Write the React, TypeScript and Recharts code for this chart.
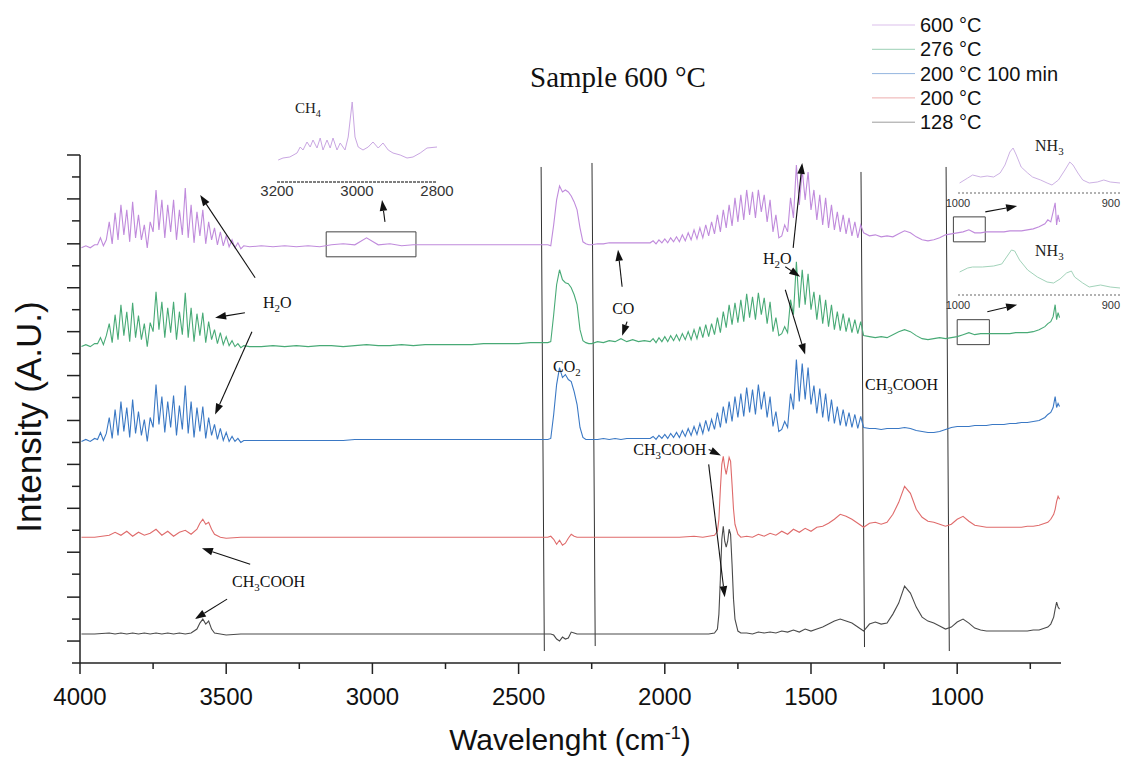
import React from 'react';
import {
  LineChart,
  Line,
  XAxis,
  YAxis,
  ReferenceLine,
  ReferenceArea,
  ReferenceDot
} from 'recharts';

const SANS = '"Liberation Sans", Arial, sans-serif';
const SERIF = '"Liberation Serif", "Times New Roman", serif';

// dense wavenumber grid (cm-1) used by the three upper spectra
const wnDense = [
  3995, 3980, 3965, 3950,
  3940, 3930, 3920, 3910, 3900, 3890, 3880, 3870, 3860, 3850,
  3840, 3830, 3820, 3810, 3800, 3790, 3780, 3770, 3760, 3750,
  3740, 3730, 3720, 3710, 3700, 3690, 3680, 3670, 3660, 3650,
  3640, 3630, 3620, 3610, 3600, 3590, 3580, 3570, 3560, 3550,
  3540, 3530, 3520, 3510, 3500, 3490, 3480, 3470, 3460, 3450,
  3440,
  3420, 3380, 3340, 3300, 3260, 3220, 3180, 3140, 3100, 3060, 3020, 2980, 2940,
  2900, 2860, 2820, 2780, 2740, 2700, 2660, 2620, 2580, 2540, 2500, 2460, 2420,
  2410, 2400, 2390, 2380, 2370, 2360, 2350, 2340, 2330, 2320, 2310, 2300, 2290, 2280, 2270, 2260,
  2250, 2230, 2210, 2190, 2170, 2150, 2130, 2110, 2090, 2070,
  2050, 2040, 2030, 2020, 2010, 2000, 1990, 1980, 1970, 1960,
  1950, 1940, 1930, 1920, 1910, 1900, 1890, 1880, 1870, 1860,
  1850, 1840, 1830, 1820, 1810, 1800, 1790, 1780, 1770, 1760,
  1750, 1740, 1730, 1720, 1710, 1700, 1690, 1680, 1670, 1660,
  1650, 1640, 1630, 1620, 1610, 1600, 1590, 1580, 1570, 1560,
  1550, 1540, 1530, 1520, 1510, 1500, 1490, 1480, 1470, 1460,
  1450, 1440, 1430, 1420, 1410, 1400, 1390, 1380, 1370, 1360,
  1350, 1340, 1330,
  1320, 1300, 1280, 1260, 1240, 1220, 1200, 1180, 1160, 1140,
  1120, 1100, 1080, 1060, 1040, 1020, 1000, 980, 960, 940,
  920, 900, 880, 860, 840, 820, 800, 780, 760, 740,
  720, 700, 690, 680, 672, 665, 660, 655, 650
];

const s600 = [
  4.12, 4.14, 4.12, 4.15,
  4.15, 4.22, 4.14, 4.20, 4.38, 4.16, 4.47, 4.20, 4.55, 4.25,
  4.50, 4.18, 4.58, 4.22, 4.45, 4.20, 4.35, 4.12, 4.38, 4.28,
  4.70, 4.30, 4.60, 4.22, 4.55, 4.28, 4.60, 4.20, 4.50, 4.25,
  4.72, 4.22, 4.55, 4.17, 4.48, 4.24, 4.50, 4.16, 4.38, 4.20,
  4.32, 4.15, 4.28, 4.14, 4.24, 4.13, 4.20, 4.12, 4.17, 4.11,
  4.14,
  4.13, 4.14, 4.13, 4.14, 4.13, 4.14, 4.13, 4.15, 4.16, 4.15, 4.22, 4.15, 4.16,
  4.14, 4.15, 4.15, 4.15, 4.15, 4.15, 4.15, 4.15, 4.15, 4.15, 4.15, 4.15, 4.15,
  4.15, 4.15, 4.14, 4.35, 4.60, 4.74, 4.68, 4.70, 4.68, 4.64, 4.58, 4.50, 4.32, 4.18, 4.16, 4.15,
  4.15, 4.16, 4.16, 4.17, 4.17, 4.17, 4.17, 4.17, 4.17, 4.17,
  4.17, 4.19, 4.16, 4.20, 4.17, 4.21, 4.17, 4.22, 4.18, 4.23,
  4.18, 4.25, 4.19, 4.27, 4.20, 4.30, 4.21, 4.32, 4.22, 4.35,
  4.24, 4.38, 4.26, 4.45, 4.28, 4.50, 4.32, 4.55, 4.34, 4.62,
  4.38, 4.65, 4.40, 4.70, 4.45, 4.68, 4.42, 4.70, 4.48, 4.65,
  4.38, 4.60, 4.28, 4.45, 4.22, 4.24, 4.35, 4.28, 4.62, 4.42,
  4.95, 4.55, 4.90, 4.60, 4.88, 4.50, 4.70, 4.40, 4.65, 4.35,
  4.62, 4.32, 4.55, 4.30, 4.48, 4.28, 4.45, 4.26, 4.42, 4.24,
  4.38, 4.22, 4.35,
  4.27, 4.24, 4.25, 4.23, 4.24, 4.23, 4.26, 4.29, 4.27, 4.23,
  4.20, 4.19, 4.20, 4.22, 4.25, 4.26, 4.27, 4.28, 4.30, 4.27,
  4.27, 4.28, 4.28, 4.28, 4.28, 4.29, 4.29, 4.29, 4.30, 4.31,
  4.33, 4.36, 4.40, 4.38, 4.48, 4.57, 4.35, 4.45, 4.38
];

const s276 = [
  3.13, 3.15, 3.13, 3.16,
  3.16, 3.22, 3.15, 3.24, 3.36, 3.17, 3.45, 3.20, 3.55, 3.24,
  3.48, 3.18, 3.57, 3.22, 3.44, 3.20, 3.36, 3.13, 3.37, 3.28,
  3.68, 3.30, 3.58, 3.22, 3.52, 3.27, 3.58, 3.20, 3.48, 3.25,
  3.67, 3.22, 3.52, 3.18, 3.46, 3.24, 3.47, 3.17, 3.38, 3.20,
  3.30, 3.16, 3.27, 3.15, 3.23, 3.14, 3.19, 3.13, 3.16, 3.12,
  3.14,
  3.13, 3.13, 3.14, 3.13, 3.14, 3.13, 3.14, 3.14, 3.13, 3.14, 3.15, 3.14, 3.14,
  3.15, 3.14, 3.15, 3.15, 3.15, 3.15, 3.15, 3.16, 3.16, 3.16, 3.16, 3.17, 3.17,
  3.17, 3.17, 3.18, 3.45, 3.75, 3.90, 3.80, 3.77, 3.76, 3.72, 3.65, 3.55, 3.30, 3.19, 3.17, 3.16,
  3.16, 3.18, 3.17, 3.19, 3.18, 3.21, 3.18, 3.20, 3.18, 3.19,
  3.18, 3.21, 3.17, 3.22, 3.18, 3.23, 3.18, 3.24, 3.19, 3.25,
  3.19, 3.26, 3.20, 3.28, 3.20, 3.30, 3.21, 3.33, 3.22, 3.35,
  3.23, 3.36, 3.25, 3.42, 3.27, 3.48, 3.32, 3.55, 3.35, 3.57,
  3.37, 3.60, 3.38, 3.66, 3.42, 3.63, 3.40, 3.67, 3.45, 3.62,
  3.36, 3.58, 3.28, 3.42, 3.24, 3.26, 3.33, 3.27, 3.60, 3.45,
  3.98, 3.52, 3.90, 3.55, 3.86, 3.50, 3.68, 3.40, 3.65, 3.36,
  3.60, 3.33, 3.55, 3.30, 3.48, 3.29, 3.46, 3.28, 3.42, 3.27,
  3.40, 3.26, 3.38,
  3.24, 3.23, 3.22, 3.23, 3.22, 3.25, 3.28, 3.30, 3.28, 3.24,
  3.21, 3.20, 3.21, 3.22, 3.21, 3.22, 3.23, 3.25, 3.27, 3.25,
  3.26, 3.26, 3.26, 3.26, 3.26, 3.26, 3.27, 3.27, 3.27, 3.28,
  3.30, 3.33, 3.36, 3.38, 3.43, 3.55, 3.40, 3.47, 3.42
];

const s200long = [
  2.18, 2.20, 2.18, 2.21,
  2.20, 2.27, 2.19, 2.26, 2.42, 2.21, 2.50, 2.24, 2.58, 2.28,
  2.52, 2.22, 2.60, 2.26, 2.48, 2.24, 2.40, 2.18, 2.42, 2.32,
  2.75, 2.35, 2.63, 2.27, 2.58, 2.32, 2.64, 2.24, 2.54, 2.30,
  2.74, 2.26, 2.58, 2.22, 2.52, 2.28, 2.53, 2.21, 2.42, 2.24,
  2.35, 2.20, 2.31, 2.19, 2.27, 2.18, 2.23, 2.18, 2.21, 2.17,
  2.19,
  2.19, 2.19, 2.19, 2.19, 2.19, 2.19, 2.19, 2.19, 2.19, 2.20, 2.20, 2.20, 2.20,
  2.20, 2.20, 2.20, 2.20, 2.20, 2.20, 2.20, 2.20, 2.20, 2.20, 2.20, 2.20, 2.20,
  2.20, 2.20, 2.21, 2.45, 2.75, 2.92, 2.82, 2.85, 2.80, 2.78, 2.68, 2.55, 2.32, 2.22, 2.20, 2.20,
  2.20, 2.20, 2.21, 2.20, 2.21, 2.20, 2.21, 2.21, 2.21, 2.21,
  2.21, 2.23, 2.20, 2.24, 2.21, 2.25, 2.21, 2.26, 2.22, 2.27,
  2.22, 2.29, 2.23, 2.31, 2.24, 2.33, 2.25, 2.36, 2.26, 2.39,
  2.28, 2.40, 2.30, 2.47, 2.32, 2.53, 2.36, 2.58, 2.38, 2.63,
  2.42, 2.66, 2.43, 2.72, 2.47, 2.70, 2.45, 2.75, 2.50, 2.68,
  2.42, 2.63, 2.33, 2.48, 2.28, 2.30, 2.38, 2.32, 2.66, 2.50,
  3.00, 2.58, 2.96, 2.60, 2.92, 2.55, 2.74, 2.46, 2.71, 2.42,
  2.66, 2.38, 2.60, 2.36, 2.53, 2.34, 2.50, 2.33, 2.47, 2.32,
  2.45, 2.31, 2.43,
  2.32, 2.31, 2.31, 2.30, 2.31, 2.31, 2.31, 2.32, 2.31, 2.29,
  2.28, 2.27, 2.27, 2.28, 2.30, 2.32, 2.33, 2.33, 2.33, 2.34,
  2.34, 2.34, 2.35, 2.35, 2.35, 2.36, 2.36, 2.37, 2.37, 2.38,
  2.39, 2.42, 2.45, 2.47, 2.52, 2.63, 2.52, 2.56, 2.53
];

// sparser grid for the two lower spectra
const wnSparse = [
  3995, 3950, 3900, 3880, 3860, 3840, 3820, 3800, 3780, 3760,
  3740, 3720, 3700, 3680, 3660, 3640, 3620, 3600, 3590, 3580,
  3570, 3560, 3550, 3540, 3520, 3500,
  3450, 3400, 3300, 3200, 3100, 3000, 2900, 2800, 2700, 2600, 2500, 2450, 2420,
  2400, 2390, 2380, 2370, 2360, 2350, 2340, 2330, 2320, 2310,
  2300, 2280, 2250, 2200, 2100, 2000, 1950, 1900, 1870, 1850,
  1830, 1820, 1815, 1810, 1805, 1800, 1795, 1790, 1785, 1780,
  1775, 1770, 1765, 1760, 1750, 1740,
  1720, 1700, 1680, 1660, 1640, 1620, 1600, 1580, 1560, 1540,
  1520, 1500, 1480, 1460, 1440, 1420, 1400, 1380, 1360, 1340,
  1320, 1300, 1280, 1260, 1240, 1220, 1200, 1180, 1160, 1140,
  1120, 1100, 1080, 1060, 1040, 1020, 1000, 980, 960, 940,
  920, 900, 880, 860, 840, 820, 800, 780, 760, 740,
  720, 700, 690, 680, 670, 665, 660, 655, 650
];

const s200 = [
  1.22, 1.22, 1.24, 1.27, 1.24, 1.28, 1.23, 1.27, 1.24, 1.26,
  1.30, 1.24, 1.28, 1.23, 1.27, 1.29, 1.25, 1.30, 1.36, 1.40,
  1.35, 1.37, 1.30, 1.25, 1.22, 1.21,
  1.22, 1.22, 1.22, 1.22, 1.22, 1.22, 1.22, 1.22, 1.22, 1.22, 1.22, 1.22, 1.22,
  1.22, 1.23, 1.20, 1.15, 1.19, 1.14, 1.16, 1.21, 1.25, 1.23,
  1.22, 1.22, 1.22, 1.22, 1.22, 1.22, 1.22, 1.23, 1.22, 1.23,
  1.24, 1.28, 1.40, 1.70, 1.95, 2.03, 1.92, 1.85, 1.93, 2.02,
  1.98, 1.75, 1.50, 1.35, 1.25, 1.22,
  1.23, 1.22, 1.25, 1.23, 1.26, 1.24, 1.28, 1.25, 1.30, 1.27,
  1.31, 1.28, 1.32, 1.33, 1.36, 1.40, 1.45, 1.43, 1.40, 1.36,
  1.32, 1.36, 1.37, 1.35, 1.37, 1.45, 1.57, 1.73, 1.66, 1.50,
  1.42, 1.38, 1.37, 1.35, 1.33, 1.35, 1.40, 1.43, 1.38, 1.34,
  1.33, 1.32, 1.32, 1.32, 1.32, 1.32, 1.32, 1.32, 1.33, 1.33,
  1.34, 1.36, 1.37, 1.40, 1.45, 1.50, 1.58, 1.63, 1.60
];

const s128 = [
  0.25, 0.25, 0.26, 0.25, 0.26, 0.25, 0.26, 0.25, 0.26, 0.25,
  0.26, 0.25, 0.26, 0.25, 0.26, 0.25, 0.26, 0.30, 0.36, 0.40,
  0.35, 0.38, 0.30, 0.26, 0.25, 0.24,
  0.25, 0.25, 0.25, 0.25, 0.25, 0.25, 0.25, 0.25, 0.25, 0.25, 0.25, 0.25, 0.25,
  0.25, 0.25, 0.24, 0.20, 0.18, 0.22, 0.20, 0.21, 0.27, 0.26,
  0.25, 0.25, 0.25, 0.25, 0.25, 0.25, 0.25, 0.25, 0.25, 0.25,
  0.26, 0.30, 0.45, 0.80, 1.20, 1.33, 1.18, 1.12, 1.18, 1.30,
  1.25, 0.95, 0.60, 0.40, 0.28, 0.26,
  0.26, 0.25, 0.27, 0.26, 0.27, 0.26, 0.28, 0.27, 0.29, 0.27,
  0.30, 0.28, 0.30, 0.32, 0.35, 0.38, 0.40, 0.38, 0.36, 0.32,
  0.28, 0.35, 0.37, 0.35, 0.36, 0.45, 0.56, 0.73, 0.66, 0.52,
  0.42, 0.38, 0.36, 0.33, 0.30, 0.32, 0.37, 0.40, 0.36, 0.31,
  0.29, 0.28, 0.28, 0.28, 0.28, 0.28, 0.28, 0.28, 0.28, 0.29,
  0.29, 0.31, 0.32, 0.35, 0.42, 0.50, 0.57, 0.52, 0.50
];

// zoomed insets
const ch4Wn = [3197, 3185, 3168, 3150, 3142, 3135, 3125, 3117, 3110, 3100, 3092, 3085, 3075, 3067, 3060, 3050, 3042, 3030, 3022, 3012, 3005, 2997, 2985, 2972, 2960, 2947, 2935, 2922, 2910, 2892, 2875, 2860, 2842, 2825, 2800];
const ch4Val = [2.2, 2.4, 2.5, 2.9, 3.5, 3.2, 4.0, 3.5, 4.2, 3.4, 4.4, 3.2, 4.2, 3.4, 4.4, 3.2, 3.9, 3.2, 4.5, 8.0, 4.5, 3.5, 3.2, 3.5, 4.0, 3.4, 3.9, 3.2, 2.9, 2.7, 2.4, 2.5, 2.9, 3.4, 3.5];
const nh3TopWn = [999, 994, 991, 986, 982, 978, 974, 971, 968, 966, 964, 961, 957, 954, 949, 945, 942, 938, 934, 931, 929, 926, 923, 919, 914, 910, 906, 900];
const nh3TopVal = [1.0, 1.5, 1.8, 1.6, 1.7, 1.6, 2.0, 2.8, 4.1, 4.5, 3.8, 2.6, 2.0, 1.6, 1.3, 1.0, 0.8, 1.3, 2.3, 3.1, 2.8, 2.0, 1.3, 1.0, 1.1, 1.3, 1.1, 1.0];
const nh3LowWn = [999, 994, 991, 985, 978, 973, 970, 967, 965, 962, 957, 951, 945, 941, 937, 933, 930, 928, 923, 919, 912, 906, 900];
const nh3LowVal = [2.3, 2.7, 2.8, 2.8, 2.9, 3.1, 3.8, 4.5, 4.4, 3.5, 2.5, 1.8, 1.3, 1.2, 1.6, 2.2, 2.4, 1.8, 1.2, 0.8, 1.0, 0.8, 0.7];

const xTicks = [4000, 3750, 3500, 3250, 3000, 2750, 2500, 2250, 2000, 1750, 1500, 1250, 1000, 750];
const yTicks = [-0.04, 0.18, 0.40, 0.62, 0.85, 1.07, 1.29, 1.51, 1.73, 1.95, 2.17, 2.39, 2.62, 2.84, 3.06, 3.28, 3.50, 3.72, 3.94, 4.16, 4.39, 4.61, 4.83, 5.05];

const series = [
  { key: 's600', name: '600 °C', color: '#c08bdc', dense: true },
  { key: 's276', name: '276 °C', color: '#48aa76', dense: true },
  { key: 's200long', name: '200 °C 100 min', color: '#3a78c4', dense: true },
  { key: 's200', name: '200 °C', color: '#df6b6b', dense: false },
  { key: 's128', name: '128 °C', color: '#4a4a4a', dense: false }
];

const denseData = wnDense.map((wn, i) => ({ wn, s600: s600[i], s276: s276[i], s200long: s200long[i] }));
const sparseData = wnSparse.map((wn, i) => ({ wn, s200: s200[i], s128: s128[i] }));

// hand drawn marker lines, [wn top, v top, wn bottom, v bottom]
const markerLines = [
  [2423, 4.93, 2412, 0.08],
  [2249, 4.97, 2238, 0.13],
  [1329, 4.88, 1317, 0.12],
  [1038, 4.93, 1027, 0.08]
];

// annotation arrows, [wn from, v from, wn to, v to]
const arrows = [
  [3401, 3.82, 3589, 4.65],
  [3436, 3.47, 3538, 3.42],
  [3412, 3.28, 3538, 2.45],
  [2957, 4.38, 2967, 4.60],
  [2146, 3.73, 2160, 4.10],
  [2129, 3.38, 2146, 3.24],
  [1561, 4.12, 1530, 4.97],
  [1588, 3.93, 1537, 3.83],
  [1588, 3.70, 1520, 3.05],
  [904, 4.48, 795, 4.54],
  [897, 3.48, 795, 3.55],
  [1850, 2.10, 1808, 2.04],
  [1850, 1.95, 1795, 0.62],
  [3418, 0.95, 3583, 1.11],
  [3497, 0.60, 3607, 0.40]
];

const labels = [
  { f: 'H2O', wn: 3374, v: 3.52 },
  { f: 'CO2', wn: 2382, v: 2.88 },
  { f: 'CO', wn: 2180, v: 3.46 },
  { f: 'H2O', wn: 1664, v: 3.96 },
  { f: 'CH3COOH', wn: 1315, v: 2.70 },
  { f: 'CH3COOH', wn: 2108, v: 2.04 },
  { f: 'CH3COOH', wn: 3480, v: 0.72 }
];

// boxes around the zoomed regions
const boxes = [
  { x1: 2851, x2: 3158, y1: 4.03, y2: 4.28 },
  { x1: 904, x2: 1013, y1: 4.18, y2: 4.43 },
  { x1: 890, x2: 1000, y1: 3.15, y2: 3.40 }
];

const chemParts = (f: string, size: number) => {
  const out: React.ReactNode[] = [];
  let sub = false;
  f.split('').forEach((ch, i) => {
    const digit = /[0-9]/.test(ch);
    if (digit && !sub) {
      out.push(<tspan key={i} fontSize={size * 0.68} dy={size * 0.25}>{ch}</tspan>);
      sub = true;
    } else if (!digit && sub) {
      out.push(<tspan key={i} dy={-size * 0.25}>{ch}</tspan>);
      sub = false;
    } else {
      out.push(<tspan key={i}>{ch}</tspan>);
    }
  });
  return out;
};

const ArrowShape = (props: any) => {
  const { x1, y1, x2, y2 } = props;
  const ang = Math.atan2(y2 - y1, x2 - x1);
  const len = 11;
  const hw = 3.8;
  const bx = x2 - len * Math.cos(ang);
  const by = y2 - len * Math.sin(ang);
  const px = -Math.sin(ang) * hw;
  const py = Math.cos(ang) * hw;
  return (
    <g>
      <line x1={x1} y1={y1} x2={bx} y2={by} stroke="#111" strokeWidth={1.1} />
      <polygon points={`${x2},${y2} ${bx + px},${by + py} ${bx - px},${by - py}`} fill="#111" />
    </g>
  );
};

const XTick = ({ x, y, payload }: any) => {
  const major = payload.value % 500 === 0;
  return (
    <g>
      <line x1={x} y1={y} x2={x} y2={y + (major ? 11 : 6)} stroke="#222" strokeWidth={1.5} />
      {major && (
        <text x={x} y={y + 42} textAnchor="middle" fontFamily={SANS} fontSize={24} fill="#111">
          {payload.value}
        </text>
      )}
    </g>
  );
};

const YTick = ({ x, y, index }: any) => {
  const major = index % 2 === 1;
  return <line x1={x - (major ? 13 : 8)} y1={y} x2={x} y2={y} stroke="#222" strokeWidth={1.5} />;
};

const makeInsetTick = (lastEnd: boolean, count: number) => ({ x, y, payload, index }: any) => (
  <text
    x={x}
    y={y + 14}
    textAnchor={lastEnd && index === count - 1 ? 'end' : 'middle'}
    fontFamily={SANS}
    fontSize={lastEnd ? 11 : 15}
    fill="#333"
  >
    {payload.value}
  </text>
);

type InsetProps = {
  left: number; top: number; w: number; h: number;
  wn: number[]; vals: number[]; color: string;
  domainX: [number, number]; domainY: [number, number]; ticks: number[];
  axisColor: string; dash: string; lastEnd: boolean;
};

const Inset = ({ left, top, w, h, wn, vals, color, domainX, domainY, ticks, axisColor, dash, lastEnd }: InsetProps) => {
  const data = wn.map((x, i) => ({ wn: x, v: vals[i] }));
  return (
    <div style={{ position: 'absolute', left: left - 20, top: top - 3 }}>
      <LineChart width={w + 40} height={h + 25} data={data} margin={{ top: 3, right: 20, bottom: 0, left: 20 }}>
        <XAxis
          type="number"
          dataKey="wn"
          domain={domainX}
          reversed
          ticks={ticks}
          interval={0}
          tickLine={false}
          tickSize={0}
          tickMargin={0}
          height={22}
          axisLine={{ stroke: axisColor, strokeWidth: 1.5, strokeDasharray: dash }}
          tick={makeInsetTick(lastEnd, ticks.length)}
        />
        <YAxis hide domain={domainY} allowDataOverflow />
        <Line type="linear" dataKey="v" stroke={color} strokeWidth={1} dot={false} isAnimationActive={false} />
      </LineChart>
    </div>
  );
};

export default function App() {
  return (
    <div style={{ position: 'absolute', left: 0, top: 0, width: 1131, height: 760, overflow: 'hidden', background: '#fff' }}>
      <LineChart width={1131} height={760} margin={{ top: 155, right: 70, bottom: 0, left: 0 }}>
        <XAxis
          type="number"
          dataKey="wn"
          domain={[645, 4000]}
          reversed
          allowDataOverflow
          ticks={xTicks}
          interval={0}
          height={97}
          tickLine={false}
          tickSize={0}
          tickMargin={0}
          axisLine={{ stroke: '#222', strokeWidth: 1.5 }}
          tick={<XTick />}
        />
        <YAxis
          type="number"
          domain={[-0.04, 5.05]}
          allowDataOverflow
          ticks={yTicks}
          interval={0}
          width={80}
          tickLine={false}
          tickSize={0}
          tickMargin={0}
          axisLine={{ stroke: '#222', strokeWidth: 1.5 }}
          tick={<YTick />}
        />
        {markerLines.map((m, i) => (
          <ReferenceLine
            key={`m${i}`}
            segment={[{ x: m[0], y: m[1] }, { x: m[2], y: m[3] }]}
            stroke="#333"
            strokeWidth={1}
          />
        ))}
        {series.map(s => (
          <Line
            key={s.key}
            data={s.dense ? denseData : sparseData}
            dataKey={s.key}
            name={s.name}
            type="linear"
            stroke={s.color}
            strokeWidth={1.1}
            dot={false}
            isAnimationActive={false}
          />
        ))}
        {boxes.map((b, i) => (
          <ReferenceArea key={`b${i}`} x1={b.x1} x2={b.x2} y1={b.y1} y2={b.y2} fill="none" stroke="#444" strokeWidth={1} />
        ))}
        {arrows.map((a, i) => (
          <ReferenceLine key={`a${i}`} segment={[{ x: a[0], y: a[1] }, { x: a[2], y: a[3] }]} shape={<ArrowShape />} />
        ))}
        {labels.map((l, i) => (
          <ReferenceDot
            key={`l${i}`}
            x={l.wn}
            y={l.v}
            r={0}
            shape={(p: any) => (
              <text x={p.cx} y={p.cy} fontFamily={SERIF} fontSize={16} fill="#111">
                {chemParts(l.f, 16)}
              </text>
            )}
          />
        ))}
      </LineChart>

      <Inset left={277} top={95} w={160} h={87} wn={ch4Wn} vals={ch4Val} color="#c9a6e2"
        domainX={[2800, 3200]} domainY={[0, 8.7]} ticks={[3200, 3000, 2800]} axisColor="#555" dash="3 1" lastEnd={false} />
      <Inset left={958} top={140} w={162} h={53} wn={nh3TopWn} vals={nh3TopVal} color="#cdb2e4"
        domainX={[900, 1000]} domainY={[0, 5.3]} ticks={[1000, 900]} axisColor="#999" dash="2 2" lastEnd />
      <Inset left={958} top={240} w={162} h={55} wn={nh3LowWn} vals={nh3LowVal} color="#a2d3ba"
        domainX={[900, 1000]} domainY={[0, 5.5]} ticks={[1000, 900]} axisColor="#999" dash="2 2" lastEnd />

      <svg width={1131} height={760} style={{ position: 'absolute', left: 0, top: 0, pointerEvents: 'none' }}>
        <text x={618} y={87} textAnchor="middle" fontFamily={SERIF} fontSize={29} fill="#111">Sample 600 °C</text>
        <text x={295} y={113} fontFamily={SERIF} fontSize={15} fill="#222">{chemParts('CH4', 15)}</text>
        <text x={1035} y={151} fontFamily={SERIF} fontSize={16} fill="#222">{chemParts('NH3', 16)}</text>
        <text x={1035} y={256} fontFamily={SERIF} fontSize={16} fill="#222">{chemParts('NH3', 16)}</text>
        {series.map((s, i) => (
          <g key={s.key}>
            <line x1={872} x2={915} y1={25 + i * 24.3} y2={25 + i * 24.3} stroke={s.color} strokeOpacity={0.55} strokeWidth={1} />
            <text x={920} y={32 + i * 24.3} fontFamily={SANS} fontSize={20} fill="#111">{s.name}</text>
          </g>
        ))}
        <text
          transform="translate(41, 417) rotate(-90)"
          textAnchor="middle"
          fontFamily={SANS}
          fontSize={35}
          fill="#111"
        >
          Intensity (A.U.)
        </text>
        <text x={570} y={750} textAnchor="middle" fontFamily={SANS} fontSize={30} fill="#111">
          Wavelenght (cm<tspan dy={-11} fontSize={18}>-1</tspan><tspan dy={11}>)</tspan>
        </text>
      </svg>
    </div>
  );
}
